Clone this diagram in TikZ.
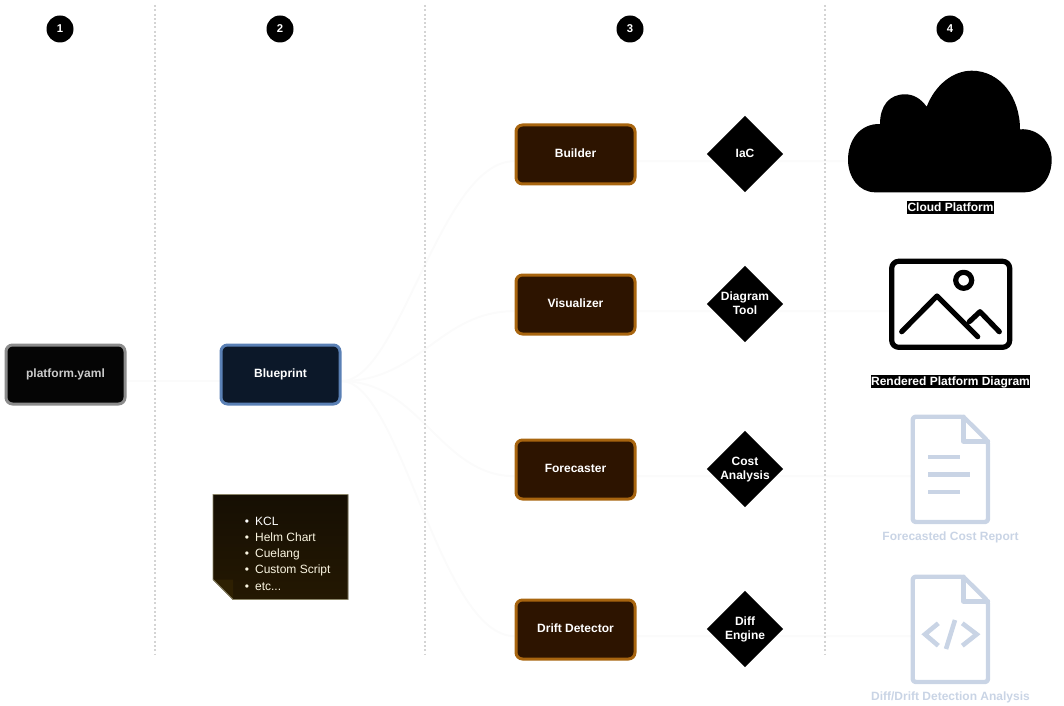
\documentclass[tikz,border=0pt]{standalone}
\usepackage{fontspec}
\setmainfont{Liberation Sans}
\usetikzlibrary{shapes.geometric,backgrounds}
\def\px{0.75pt}
% single-line label, with its baseline a fixed distance under the node centre
\newcommand{\lab}[1]{\smash{\lower1.9pt\hbox{#1}}}
% two-line label, centred on the node and set a little above the middle
\newcommand{\twolab}[2]{\smash{\raisebox{-3pt}{\begin{tabular}{@{}c@{}}#1\\#2\end{tabular}}}}
\definecolor{wirecol}{HTML}{FBFBFB}
\definecolor{dimcol}{HTML}{C9D4E5}
\definecolor{sepcol}{HTML}{D4D4D4}
\definecolor{stickyedge}{HTML}{8A8468}
\definecolor{stickycream}{HTML}{FBF6E2}
\definecolor{blueedge}{HTML}{5A80B5}
\definecolor{bluefill}{HTML}{0C1829}
\definecolor{brownedge}{HTML}{A8650F}
\definecolor{brownfill}{HTML}{2D1400}
\tikzset{
  base/.style={rounded corners=6.5*\px, line width=3*\px, minimum width=119*\px,
    minimum height=59*\px, inner sep=0pt, font=\fontsize{9}{10.5}\selectfont\bfseries, text=white},
  greybox/.style={base, draw=black!45, fill=black!98, text=black!20},
  bluebox/.style={base, draw=blueedge, fill=bluefill},
  brownbox/.style={base, draw=brownedge, fill=brownfill},
  gate/.style={diamond, aspect=1, fill=black, inner sep=0pt, minimum width=76.5*\px, minimum height=76.5*\px,
    align=center, text=white, font=\fontsize{9}{10.5}\selectfont\bfseries},
  badge/.style={circle, fill=black, text=white, inner sep=0pt, minimum size=27*\px,
    font=\fontsize{8.5}{10}\selectfont\bfseries},
  caption/.style={inner sep=0pt, font=\fontsize{9}{10.5}\selectfont\bfseries},
  solidcap/.style={caption, fill=black, text=white, text height=8pt, text depth=2.4pt, inner xsep=0.4pt},
  dimcap/.style={caption, text=dimcol},
  wire/.style={wirecol, line width=2*\px},
  divider/.style={sepcol, line width=2*\px, dash pattern=on 1.5pt off 1.7pt},
  blackicon/.style={black, line width=5.2*\px, line cap=round, line join=round},
  dimicon/.style={dimcol, line width=4.4*\px, line cap=round, line join=round}
}
\begin{document}
\begin{tikzpicture}[x=0.75pt,y=-0.75pt]
\useasboundingbox (0,0) rectangle (1064,706);

% column separators
\coordinate (s1t) at (155.3,5); \coordinate (s1b) at (155.3,655);
\coordinate (s2t) at (425.3,5); \coordinate (s2b) at (425.3,655);
\coordinate (s3t) at (825.3,5); \coordinate (s3b) at (825.3,655);
\draw[divider] (s1t) -- (s1b);
\draw[divider] (s2t) -- (s2b);
\draw[divider] (s3t) -- (s3b);

% column numbers
\node[badge] (n1) at (60,29) {1};
\node[badge] (n2) at (280,29) {2};
\node[badge] (n3) at (630,29) {3};
\node[badge] (n4) at (950,29) {4};

% process boxes
\node[greybox] (yaml) at (65.5,374.5) {\lab{platform.yaml}};
\node[bluebox] (blue) at (280.5,374.5) {\lab{Blueprint}};
\node[brownbox] (build) at (575.5,154.5) {\lab{Builder}};
\node[brownbox] (vis) at (575.5,304.5) {\lab{Visualizer}};
\node[brownbox] (fore) at (575.5,469.5) {\lab{Forecaster}};
\node[brownbox] (drift) at (575.5,629.5) {\lab{Drift Detector}};

% tool diamonds
\node[gate] (iac) at (745,154) {\smash{\lower2.6pt\hbox{IaC}}};
\node[gate] (dia) at (745,304) {\twolab{Diagram}{Tool}};
\node[gate] (cost) at (745,469) {\twolab{Cost}{Analysis}};
\node[gate] (diff) at (745,629) {\twolab{Diff}{Engine}};

% output anchors for the connectors
\coordinate (ocloud) at (848,161);
\coordinate (oimg) at (889,311);
\coordinate (odoc) at (911,476);
\coordinate (ocode) at (911,636);

% connectors, kept behind all the shapes
\begin{pgfonlayer}{background}
\draw[wire] ([yshift=-5pt]yaml.east) -- ([yshift=-5pt]blue.west);
\draw[wire] ([yshift=-5pt]blue.east) .. controls (400,381) and (440,161) .. ([yshift=-5pt]build.west);
\draw[wire] ([yshift=-5pt]blue.east) .. controls (420,381) and (440,311) .. ([yshift=-5pt]vis.west);
\draw[wire] ([yshift=-5pt]blue.east) .. controls (420,381) and (440,476) .. ([yshift=-5pt]fore.west);
\draw[wire] ([yshift=-5pt]blue.east) .. controls (400,381) and (440,636) .. ([yshift=-5pt]drift.west);
\draw[wire] ([yshift=-5pt]build.east) -- (ocloud);
\draw[wire] ([yshift=-5pt]vis.east) -- (oimg);
\draw[wire] ([yshift=-5pt]fore.east) -- (odoc);
\draw[wire] ([yshift=-5pt]drift.east) -- (ocode);
\end{pgfonlayer}

% sticky note with the template list
\fill[top color={rgb,255:red,22;green,15;blue,3}, bottom color={rgb,255:red,36;green,24;blue,2}]
  (213,494.5) -- (348,494.5) -- (348,599.5) -- (233,599.5) -- (213,579.5) -- cycle;
\fill[fill={rgb,255:red,46;green,32;blue,2}] (213,579.5) -- (233,579.5) -- (233,599.5) -- cycle;
\draw[stickyedge, line width=0.9*\px]
  (213,494.5) -- (348,494.5) -- (348,599.5) -- (233,599.5) -- (213,579.5) -- cycle;
\node[anchor=north west, inner sep=0pt, align=left, text=stickycream,
      font=\fontsize{9}{12.2}\selectfont] (list) at (244.5,516.5) {%
  \textcolor{white}{\textbullet\hspace{4.6pt}KCL}\\
  \textbullet\hspace{4.6pt}Helm Chart\\
  \textbullet\hspace{4.6pt}Cuelang\\
  \textbullet\hspace{4.6pt}Custom Script\\
  \textbullet\hspace{4.6pt}etc...};

% cloud icon
\fill[black] (875,192.3)
  .. controls (859,192.3) and (848,177) .. (848,160)
  .. controls (848,140) and (860,123.5) .. (880,124)
  .. controls (880,106) and (889,94.3) .. (905,94.3)
  .. controls (914,94.3) and (921,99) .. (926.7,106.7)
  .. controls (935,85) and (953,70.7) .. (971.7,70.7)
  .. controls (1000,70.7) and (1020,97) .. (1020,129.3)
  .. controls (1038,128) and (1051.7,142) .. (1051.7,160)
  .. controls (1051.7,178) and (1040,192.3) .. (1025,192.3)
  -- cycle;
\node[solidcap] (lcloud) at (950.5,207.5) {Cloud Platform};

% picture icon
\draw[blackicon, rounded corners=7*\px] (891.7,261.3) rectangle (1009.7,347.3);
\draw[blackicon] (963.7,280.3) circle (8);
\draw[blackicon] (901.7,331.7) -- (937,296) -- (977.7,336.7);
\draw[blackicon] (969.3,321.7) -- (980,311.7) -- (999.3,331.7);
\node[solidcap] (limg) at (950.5,381.5) {Rendered Platform Diagram};

% report icon
\draw[dimicon, rounded corners=3*\px] (963.3,416.7) -- (912.7,416.7) -- (912.7,522) -- (988,522) -- (988,441.3) -- cycle;
\draw[dimicon] (963.3,416.7) -- (963.3,441.3) -- (988,441.3);
\draw[dimcol, line width=4.4*\px] (928.3,457) -- (960.3,457);
\draw[dimcol, line width=4.4*\px] (928.3,474.3) -- (970.3,474.3);
\draw[dimcol, line width=4.4*\px] (928.3,491.7) -- (960.3,491.7);
\node[dimcap] (ldoc) at (950.5,537.5) {Forecasted Cost Report};

% code report icon
\draw[dimicon, rounded corners=3*\px] (963.3,576.7) -- (912.7,576.7) -- (912.7,682) -- (988,682) -- (988,601.3) -- cycle;
\draw[dimicon] (963.3,576.7) -- (963.3,601.3) -- (988,601.3);
\begin{scope}[dimcol, line width=4.6*\px, line cap=butt, line join=miter]
\draw (938.3,623.3) -- (925,634.3) -- (938.3,645.7);
\draw (955,620) -- (946,649);
\draw (962.3,623.3) -- (976.7,634.3) -- (962.3,645.7);
\end{scope}
\node[dimcap] (lcode) at (950.5,697.5) {Diff/Drift Detection Analysis};
\end{tikzpicture}
\end{document}
